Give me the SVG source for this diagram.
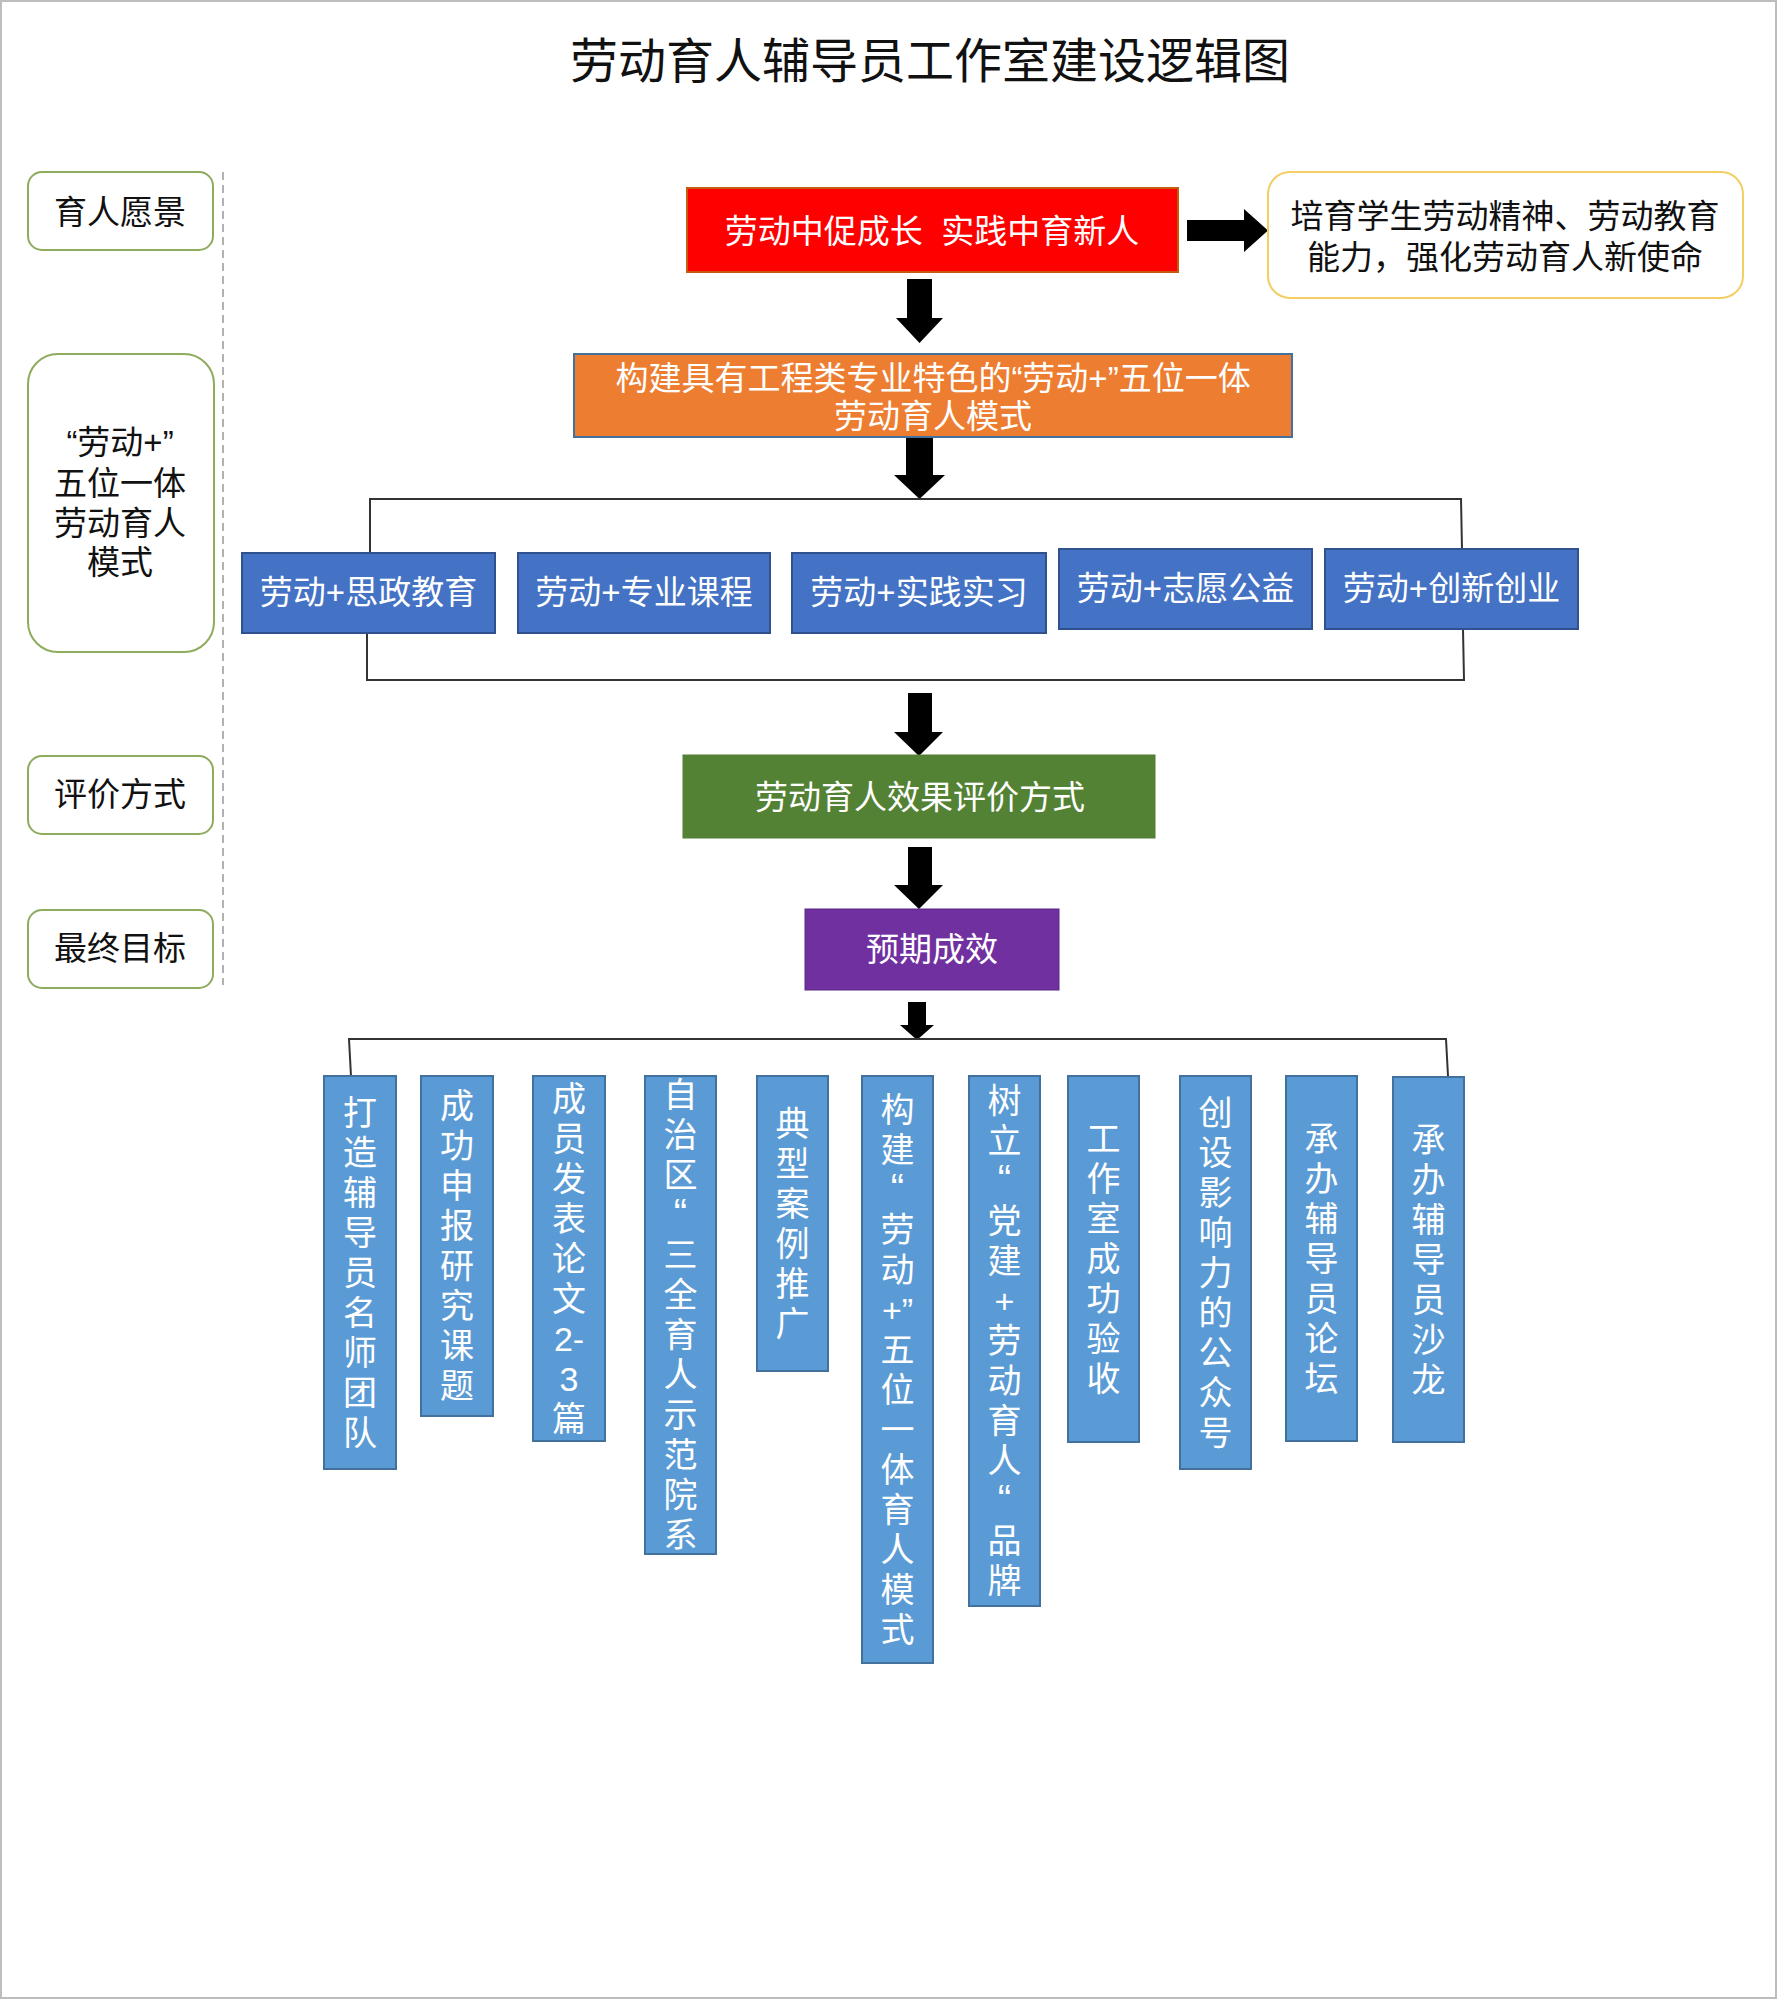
<svg xmlns="http://www.w3.org/2000/svg" width="1777" height="2000" viewBox="0 0 1777 2000">
<style>
text{font-family:"Liberation Sans","Noto Sans CJK SC",sans-serif;font-size:33px;text-anchor:middle}
.title{font-size:48px;fill:#111}
.wt{fill:#fff}
.bk{fill:#111}
.lbl{fill:#fff;stroke:#8eab5e;stroke-width:2}
.blk{fill:#000}
.con{fill:none;stroke:#333;stroke-width:2}
.top5{fill:#4472c4;stroke:#2f528f;stroke-width:2}
.res{fill:#5b9bd5;stroke:#41719c;stroke-width:2}
.vt{font-size:34px;fill:#fff}
.q{font-size:40px}
</style>
<rect x="1" y="1" width="1775" height="1997" fill="#fff" stroke="#bdbdbd" stroke-width="2"/>
<text class="title" x="930" y="78">劳动育人辅导员工作室建设逻辑图</text>

<g id="side">
<line x1="223" y1="172" x2="223" y2="985" stroke="#999" stroke-width="1.5" stroke-dasharray="8,5"/>
<g id="side-vision"><rect class="lbl" x="28" y="172" width="185" height="78" rx="14"/><text class="bk" x="120" y="224">育人愿景</text></g>
<g id="side-mode"><rect class="lbl" x="28" y="354" width="186" height="298" rx="30"/>
<text class="bk" x="120" y="454">“劳动+”</text><text class="bk" x="120" y="495">五位一体</text><text class="bk" x="120" y="535">劳动育人</text><text class="bk" x="120" y="574">模式</text></g>
<g id="side-eval"><rect class="lbl" x="28" y="756" width="185" height="78" rx="14"/><text class="bk" x="120" y="806">评价方式</text></g>
<g id="side-goal"><rect class="lbl" x="28" y="910" width="185" height="78" rx="14"/><text class="bk" x="120" y="960">最终目标</text></g>
</g>

<g id="connectors">
<polygon class="blk" points="1187,220 1244,220 1244,209 1268,230.5 1244,252 1244,241 1187,241"/>
<polygon class="blk" points="907,279 932,279 932,318 943,318 919.5,343 896,318 907,318"/>
<polygon class="blk" points="906,437 933,437 933,475 945,475 919.5,499 894,475 906,475"/>
<polyline class="con" points="370,553 370,499 1461,499 1462,549"/>
<polyline class="con" points="367,633 367,680 1464,680 1463,629"/>
<polygon class="blk" points="908,693 932,693 932,732 943,732 919,756 894,732 908,732"/>
<polygon class="blk" points="908,847 932,847 932,885 943,885 919,909 894,885 908,885"/>
<polygon class="blk" points="908,1002 926,1002 926,1025 934,1025 917,1040 900,1025 908,1025"/>
<polyline class="con" points="351,1076 349,1039 1446,1039 1448,1076"/>
</g>

<g id="vision"><rect x="687" y="188" width="491" height="84" fill="#ff0000" stroke="#c55a11" stroke-width="2"/><text class="wt" x="932" y="243" xml:space="preserve">劳动中促成长  实践中育新人</text></g>
<g id="mission"><rect x="1268" y="172" width="475" height="126" rx="22" fill="#fff" stroke="#f3cf63" stroke-width="2"/>
<text class="bk" x="1505" y="228">培育学生劳动精神、劳动教育</text><text class="bk" x="1505" y="269">能力，强化劳动育人新使命</text></g>
<g id="model"><rect x="574" y="354" width="718" height="83" fill="#ed7d31" stroke="#41719c" stroke-width="2"/>
<text class="wt" x="933" y="390">构建具有工程类专业特色的“劳动+”五位一体</text><text class="wt" x="933" y="428">劳动育人模式</text></g>

<g id="m1"><rect class="top5" x="242" y="553" width="253" height="80"/><text class="wt" x="368.5" y="604">劳动+思政教育</text></g>
<g id="m2"><rect class="top5" x="518" y="553" width="252" height="80"/><text class="wt" x="644" y="604">劳动+专业课程</text></g>
<g id="m3"><rect class="top5" x="792" y="553" width="254" height="80"/><text class="wt" x="919" y="604">劳动+实践实习</text></g>
<g id="m4"><rect class="top5" x="1059" y="549" width="253" height="80"/><text class="wt" x="1185.5" y="600">劳动+志愿公益</text></g>
<g id="m5"><rect class="top5" x="1325" y="549" width="253" height="80"/><text class="wt" x="1451.5" y="600">劳动+创新创业</text></g>

<g id="eval"><rect x="683" y="755" width="472" height="83" fill="#548235" stroke="#507e32" stroke-width="1"/><text class="wt" x="920" y="809">劳动育人效果评价方式</text></g>
<g id="goal"><rect x="805" y="909" width="254" height="81" fill="#7030a0" stroke="#5a2682" stroke-width="1"/><text class="wt" x="932" y="961">预期成效</text></g>

<g id="r1"><rect class="res" x="324" y="1076" width="72" height="393"/>
<text class="vt"><tspan x="360" y="1124.5">打</tspan><tspan x="360" dy="40">造</tspan><tspan x="360" dy="40">辅</tspan><tspan x="360" dy="40">导</tspan><tspan x="360" dy="40">员</tspan><tspan x="360" dy="40">名</tspan><tspan x="360" dy="40">师</tspan><tspan x="360" dy="40">团</tspan><tspan x="360" dy="40">队</tspan></text></g>
<g id="r2"><rect class="res" x="421" y="1076" width="72" height="340"/>
<text class="vt"><tspan x="457" y="1118">成</tspan><tspan x="457" dy="40">功</tspan><tspan x="457" dy="40">申</tspan><tspan x="457" dy="40">报</tspan><tspan x="457" dy="40">研</tspan><tspan x="457" dy="40">究</tspan><tspan x="457" dy="40">课</tspan><tspan x="457" dy="40">题</tspan></text></g>
<g id="r3"><rect class="res" x="533" y="1076" width="72" height="365"/>
<text class="vt"><tspan x="569" y="1110.5">成</tspan><tspan x="569" dy="40">员</tspan><tspan x="569" dy="40">发</tspan><tspan x="569" dy="40">表</tspan><tspan x="569" dy="40">论</tspan><tspan x="569" dy="40">文</tspan><tspan x="569" dy="40">2-</tspan><tspan x="569" dy="40">3</tspan><tspan x="569" dy="40">篇</tspan></text></g>
<g id="r4"><rect class="res" x="645" y="1076" width="71" height="478"/>
<text class="vt"><tspan x="680.5" y="1107">自</tspan><tspan x="680.5" dy="40">治</tspan><tspan x="680.5" dy="40">区</tspan><tspan class="q" x="680.5" dy="40">“</tspan><tspan x="680.5" dy="40">三</tspan><tspan x="680.5" dy="40">全</tspan><tspan x="680.5" dy="40">育</tspan><tspan x="680.5" dy="40">人</tspan><tspan x="680.5" dy="40">示</tspan><tspan x="680.5" dy="40">范</tspan><tspan x="680.5" dy="40">院</tspan><tspan x="680.5" dy="40">系</tspan></text></g>
<g id="r5"><rect class="res" x="757" y="1076" width="71" height="295"/>
<text class="vt"><tspan x="792.5" y="1135.5">典</tspan><tspan x="792.5" dy="40">型</tspan><tspan x="792.5" dy="40">案</tspan><tspan x="792.5" dy="40">例</tspan><tspan x="792.5" dy="40">推</tspan><tspan x="792.5" dy="40">广</tspan></text></g>
<g id="r6"><rect class="res" x="862" y="1076" width="71" height="587"/>
<text class="vt"><tspan x="897.5" y="1121.5">构</tspan><tspan x="897.5" dy="40">建</tspan><tspan class="q" x="897.5" dy="40">“</tspan><tspan x="897.5" dy="40">劳</tspan><tspan x="897.5" dy="40">动</tspan><tspan x="897.5" dy="40">+”</tspan><tspan x="897.5" dy="40">五</tspan><tspan x="897.5" dy="40">位</tspan><tspan x="897.5" dy="40">一</tspan><tspan x="897.5" dy="40">体</tspan><tspan x="897.5" dy="40">育</tspan><tspan x="897.5" dy="40">人</tspan><tspan x="897.5" dy="40">模</tspan><tspan x="897.5" dy="40">式</tspan></text></g>
<g id="r7"><rect class="res" x="969" y="1076" width="71" height="530"/>
<text class="vt"><tspan x="1004.5" y="1113">树</tspan><tspan x="1004.5" dy="40">立</tspan><tspan class="q" x="1004.5" dy="40">“</tspan><tspan x="1004.5" dy="40">党</tspan><tspan x="1004.5" dy="40">建</tspan><tspan x="1004.5" dy="40">+</tspan><tspan x="1004.5" dy="40">劳</tspan><tspan x="1004.5" dy="40">动</tspan><tspan x="1004.5" dy="40">育</tspan><tspan x="1004.5" dy="40">人</tspan><tspan class="q" x="1004.5" dy="40">“</tspan><tspan x="1004.5" dy="40">品</tspan><tspan x="1004.5" dy="40">牌</tspan></text></g>
<g id="r8"><rect class="res" x="1068" y="1076" width="71" height="366"/>
<text class="vt"><tspan x="1103.5" y="1151">工</tspan><tspan x="1103.5" dy="40">作</tspan><tspan x="1103.5" dy="40">室</tspan><tspan x="1103.5" dy="40">成</tspan><tspan x="1103.5" dy="40">功</tspan><tspan x="1103.5" dy="40">验</tspan><tspan x="1103.5" dy="40">收</tspan></text></g>
<g id="r9"><rect class="res" x="1180" y="1076" width="71" height="393"/>
<text class="vt"><tspan x="1215.5" y="1124.5">创</tspan><tspan x="1215.5" dy="40">设</tspan><tspan x="1215.5" dy="40">影</tspan><tspan x="1215.5" dy="40">响</tspan><tspan x="1215.5" dy="40">力</tspan><tspan x="1215.5" dy="40">的</tspan><tspan x="1215.5" dy="40">公</tspan><tspan x="1215.5" dy="40">众</tspan><tspan x="1215.5" dy="40">号</tspan></text></g>
<g id="r10"><rect class="res" x="1286" y="1076" width="71" height="365"/>
<text class="vt"><tspan x="1321.5" y="1150.5">承</tspan><tspan x="1321.5" dy="40">办</tspan><tspan x="1321.5" dy="40">辅</tspan><tspan x="1321.5" dy="40">导</tspan><tspan x="1321.5" dy="40">员</tspan><tspan x="1321.5" dy="40">论</tspan><tspan x="1321.5" dy="40">坛</tspan></text></g>
<g id="r11"><rect class="res" x="1393" y="1077" width="71" height="365"/>
<text class="vt"><tspan x="1428.5" y="1151.5">承</tspan><tspan x="1428.5" dy="40">办</tspan><tspan x="1428.5" dy="40">辅</tspan><tspan x="1428.5" dy="40">导</tspan><tspan x="1428.5" dy="40">员</tspan><tspan x="1428.5" dy="40">沙</tspan><tspan x="1428.5" dy="40">龙</tspan></text></g>
</svg>
